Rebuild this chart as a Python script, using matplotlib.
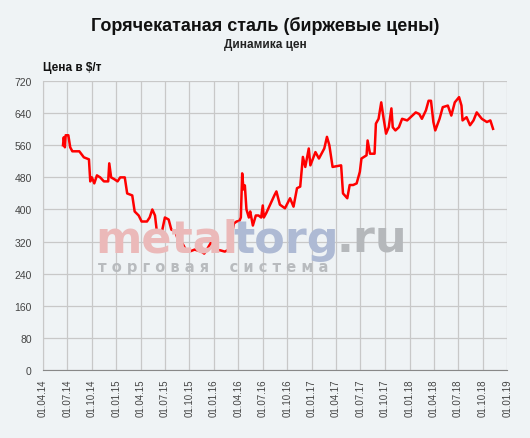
import numpy as np
import pandas as pd
import matplotlib
matplotlib.use("Agg")
import matplotlib.pyplot as plt
import matplotlib.dates as mdates

plt.rcParams["font.family"] = ["Liberation Sans", "DejaVu Sans"]

dates = [
    "2014-06-15", "2014-06-18", "2014-06-22", "2014-06-25", "2014-07-05", "2014-07-12",
    "2014-07-20", "2014-08-15", "2014-09-01", "2014-09-20", "2014-09-25", "2014-10-01",
    "2014-10-10", "2014-10-20", "2014-11-01", "2014-11-15", "2014-12-01", "2014-12-05",
    "2014-12-12", "2014-12-25", "2015-01-05", "2015-01-15", "2015-02-01", "2015-02-10",
    "2015-03-01", "2015-03-10", "2015-03-25", "2015-04-05", "2015-04-25", "2015-05-05",
    "2015-05-15", "2015-05-25", "2015-06-01", "2015-06-20", "2015-07-01", "2015-07-15",
    "2015-07-25", "2015-08-10", "2015-08-20", "2015-09-05", "2015-09-20", "2015-10-01",
    "2015-10-20", "2015-11-15", "2015-11-25", "2015-12-05", "2015-12-20", "2016-01-05",
    "2016-01-25", "2016-02-10", "2016-02-25", "2016-03-05", "2016-03-15", "2016-03-25",
    "2016-04-05", "2016-04-10", "2016-04-15", "2016-04-20", "2016-04-25", "2016-05-01",
    "2016-05-10", "2016-05-15", "2016-05-25", "2016-06-05", "2016-06-15", "2016-06-25",
    "2016-07-01", "2016-07-05", "2016-07-14", "2016-08-14", "2016-08-21", "2016-09-03",
    "2016-09-22", "2016-10-11", "2016-10-24", "2016-11-06", "2016-11-18", "2016-11-28",
    "2016-12-07", "2016-12-20", "2016-12-26", "2017-01-14", "2017-01-27", "2017-02-16",
    "2017-02-26", "2017-03-07", "2017-03-19", "2017-04-20", "2017-04-27", "2017-05-13",
    "2017-05-22", "2017-06-04", "2017-06-17", "2017-06-29", "2017-07-05", "2017-07-24",
    "2017-07-28", "2017-08-06", "2017-08-23", "2017-08-28", "2017-09-07", "2017-09-17",
    "2017-09-26", "2017-10-05", "2017-10-15", "2017-10-25", "2017-10-30", "2017-11-09",
    "2017-11-22", "2017-12-04", "2017-12-23", "2018-01-05", "2018-01-24", "2018-02-06",
    "2018-02-16", "2018-03-03", "2018-03-13", "2018-03-22", "2018-03-31", "2018-04-07",
    "2018-04-23", "2018-05-05", "2018-05-24", "2018-06-06", "2018-06-19", "2018-07-05",
    "2018-07-14", "2018-07-18", "2018-08-02", "2018-08-15", "2018-08-28", "2018-09-09",
    "2018-09-28", "2018-10-17", "2018-10-30", "2018-11-09",
]
prices = [
    560, 580, 555, 585, 585, 555,
    545, 545, 530, 525, 470, 480,
    465, 485, 480, 470, 470, 515,
    480, 475, 470, 480, 480, 440,
    435, 395, 385, 370, 370, 380,
    400, 385, 345, 345, 380, 375,
    350, 345, 320, 315, 296, 295,
    300, 295, 290, 300, 317, 300,
    298, 295, 300, 330, 365, 370,
    372, 380, 490, 450, 460, 400,
    380, 395, 360, 385, 385, 380,
    410, 380, 391, 436, 445, 412,
    403, 428, 407, 453, 457, 531,
    506, 552, 510, 543, 527, 552,
    581, 560, 506, 510, 440, 428,
    461, 461, 465, 494, 527, 535,
    572, 539, 539, 614, 626, 667,
    626, 589, 605, 652, 605, 597,
    605, 626, 622, 630, 642, 638,
    626, 647, 671, 671, 618, 597,
    626, 655, 659, 634, 667, 680,
    659, 622, 630, 610, 622, 642,
    626, 618, 622, 601,
]
y_ticks = list(range(0, 721, 80))
x_ticks = pd.date_range("2014-04-01", "2019-01-01", freq="QS")

bg = "#eff3f5"
fig = plt.figure(figsize=(5.3, 4.39), dpi=100, facecolor=bg)
ax = fig.add_axes([0.081, 0.155, 0.876, 0.658], facecolor=bg)

# watermark, pieces placed one after another
renderer = fig.canvas.get_renderer()
x = 95 / 530
for word, col in [("metal", "#ebb9b9"), ("torg", "#aebad4"), (".ru", "#b5b8bb")]:
    t = fig.text(x, 0.424, word, fontsize=32, fontweight="bold", color=col,
                 ha="left", va="baseline", family="DejaVu Sans")
    x += t.get_window_extent(renderer).width / fig.bbox.width * 0.97
fig.text(98 / 530, 0.381, "т о р г о в а я    с и с т е м а", fontsize=10.5, fontweight="bold",
         color="#b8bbbe", ha="left", va="baseline", family="DejaVu Sans")

ax.plot(pd.to_datetime(dates), prices, color="#ff0000", linewidth=1.8, zorder=3)

ax.set_ylim(0, 720)
ax.set_yticks(y_ticks)
ax.set_xlim(x_ticks[0], x_ticks[-1])
ax.set_xticks(x_ticks)
ax.xaxis.set_major_formatter(mdates.DateFormatter("%d.%m.%y"))
ax.tick_params(axis="x", rotation=90, labelsize=7, colors="#444444", length=0, pad=6)
ax.tick_params(axis="y", labelsize=7.5, colors="#444444", length=0, pad=8)
ax.grid(True, color="#c8c8c8", linewidth=0.9)
for s in ax.spines.values():
    s.set_visible(False)
ax.spines["left"].set_visible(True)
ax.spines["left"].set_color("#c8c8c8")
ax.spines["bottom"].set_visible(True)
ax.spines["bottom"].set_color("#888888")

fig.text(0.5, 0.94, "Горячекатаная сталь (биржевые цены)", fontsize=13, fontweight="bold",
         ha="center", va="center", color="#111111")
fig.text(0.5, 0.897, "Динамика цен", fontsize=8.5, fontweight="bold", ha="center", va="center",
         color="#222222")
fig.text(0.081, 0.845, "Цена в $/т", fontsize=8.5, fontweight="bold", ha="left", va="center",
         color="#111111")

fig.savefig("out.png", dpi=100, facecolor=bg)
